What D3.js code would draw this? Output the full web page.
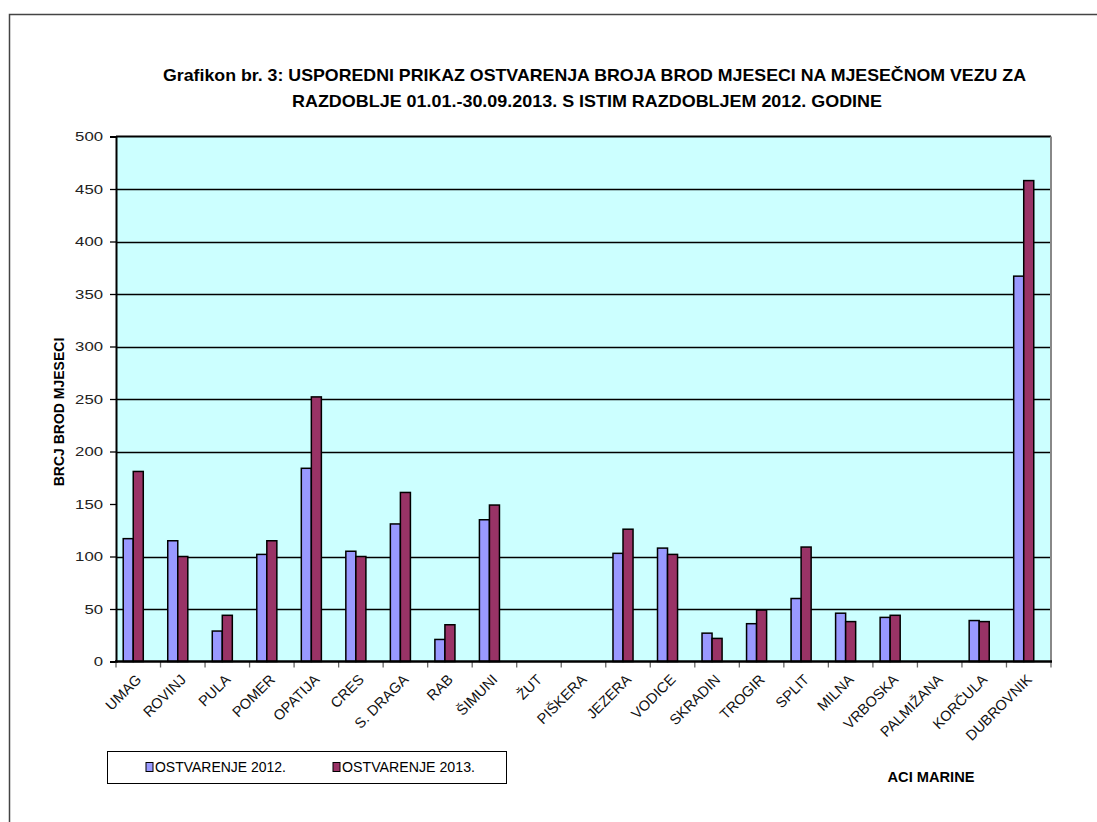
<!DOCTYPE html>
<html>
<head>
<meta charset="utf-8">
<script src="https://cdn.jsdelivr.net/npm/d3@7"></script>
<style>
  body { margin: 0; background: #fff; }
  svg { display: block; }
</style>
</head>
<body>
<svg id="chart"></svg>
<script>
document.addEventListener("DOMContentLoaded", function() {

    var width = 1097;
    var height = 822;

    // marine names along the x axis
    var marinas = ["UMAG", "ROVINJ", "PULA", "POMER", "OPATIJA", "CRES", "S. DRAGA", "RAB", "ŠIMUNI",
                   "ŽUT", "PIŠKERA", "JEZERA", "VODICE", "SKRADIN", "TROGIR", "SPLIT", "MILNA",
                   "VRBOSKA", "PALMIŽANA", "KORČULA", "DUBROVNIK"];

    var values2012 = [117, 115, 29, 102, 184, 105, 131, 21, 135, 0, 0, 103, 108, 27, 36, 60, 46, 42, 0, 39, 367];
    var values2013 = [181, 100, 44, 115, 252, 100, 161, 35, 149, 0, 0, 126, 102, 22, 49, 109, 38, 44, 0, 38, 458];

    var seriesNames = ["OSTVARENJE  2012.", "OSTVARENJE 2013."];
    var yTicks = [0, 50, 100, 150, 200, 250, 300, 350, 400, 450, 500];
    var gridTicks = [50, 100, 200, 250, 300, 350, 400, 450]; // no line at 150 in the original

    var titleLines = ["Grafikon br. 3: USPOREDNI PRIKAZ OSTVARENJA BROJA BROD MJESECI NA MJESEČNOM VEZU ZA",
                      "RAZDOBLJE 01.01.-30.09.2013. S ISTIM RAZDOBLJEM 2012. GODINE"];

    var colors = ["#9999FF", "#993366"];

    var plot = { left: 116, right: 1051, top: 136.5, bottom: 661.5 };

    var svg = d3.select("#chart")
        .attr("width", width)
        .attr("height", height);

    // outer frame
    svg.append("path")
        .attr("d", `M9.5 ${height} L9.5 14.5 L${width} 14.5`)
        .attr("fill", "none")
        .attr("stroke", "#444")
        .attr("stroke-width", 1.5);

    // title
    var titleWidths = [863, 590];
    svg.selectAll("text.title")
        .data(titleLines)
        .enter()
        .append("text")
        .attr("class", "title")
        .attr("x", (d, i) => i === 0 ? 594.5 : 587)
        .attr("y", (d, i) => 81 + i * 26)
        .attr("text-anchor", "middle")
        .attr("font-family", "'Liberation Sans Narrow', 'Arial Narrow', 'Liberation Sans', sans-serif")
        .attr("font-weight", "bold")
        .attr("font-size", 17)
        .attr("textLength", (d, i) => titleWidths[i])
        .attr("lengthAdjust", "spacingAndGlyphs")
        .attr("fill", "#000")
        .text(d => d);

    var x0 = d3.scaleBand()
        .domain(marinas)
        .range([plot.left, plot.right])
        .padding(0);

    // third, empty slot keeps the pair off-centre like the original
    var x1 = d3.scaleBand()
        .domain(["2012", "2013", "none"])
        .range([0, x0.bandwidth()])
        .paddingInner(0)
        .paddingOuter(0.72);

    var y = d3.scaleLinear()
        .domain([0, 500])
        .range([plot.bottom, plot.top]);

    // plot background
    svg.append("rect")
        .attr("x", plot.left)
        .attr("y", plot.top)
        .attr("width", plot.right - plot.left)
        .attr("height", plot.bottom - plot.top)
        .attr("fill", "#CCFFFF");

    // gridlines
    svg.append("g")
        .selectAll("line")
        .data(gridTicks)
        .enter()
        .append("line")
        .attr("x1", plot.left)
        .attr("x2", plot.right)
        .attr("y1", d => Math.round(y(d)) + 0.5)
        .attr("y2", d => Math.round(y(d)) + 0.5)
        .attr("stroke", "#000")
        .attr("stroke-width", 1.3);

    // top and right borders
    svg.append("line")
        .attr("x1", plot.left).attr("x2", plot.right)
        .attr("y1", plot.top).attr("y2", plot.top)
        .attr("stroke", "#000").attr("stroke-width", 2);
    svg.append("line")
        .attr("x1", plot.right).attr("x2", plot.right)
        .attr("y1", plot.top).attr("y2", plot.bottom)
        .attr("stroke", "#888").attr("stroke-width", 2);

    // bars
    var rows = marinas.map((m, i) => ({ name: m, vals: [values2012[i], values2013[i]] }));
    var groups = svg.append("g")
        .selectAll("g")
        .data(rows)
        .enter()
        .append("g")
        .attr("transform", d => `translate(${x0(d.name)},0)`);

    groups.selectAll("rect")
        .data(d => d.vals.map((v, k) => ({ key: k === 0 ? "2012" : "2013", value: v, k: k })).filter(d => d.value > 0))
        .enter()
        .append("rect")
        .attr("x", d => x1(d.key))
        .attr("y", d => y(d.value))
        .attr("width", x1.bandwidth())
        .attr("height", d => y(0) - y(d.value))
        .attr("fill", d => colors[d.k])
        .attr("stroke", "#000")
        .attr("stroke-width", 1.5);

    // y axis
    var yAxis = d3.axisLeft(y)
        .tickValues(yTicks)
        .tickSize(6)
        .tickPadding(7)
        .tickFormat(d3.format("d"));
    var gy = svg.append("g")
        .attr("transform", `translate(${plot.left},0)`)
        .call(yAxis);
    gy.select(".domain").attr("stroke", "#000").attr("stroke-width", 2);
    gy.selectAll(".tick line").attr("stroke", "#000").attr("stroke-width", 1.3);
    // the original labels are drawn wide, so stretch them to the same width
    gy.selectAll("text")
        .attr("font-family", "'Liberation Sans', Arial, sans-serif")
        .attr("font-size", 12.5)
        .attr("textLength", d => String(d).length * 9.3)
        .attr("lengthAdjust", "spacingAndGlyphs")
        .attr("fill", "#222");

    // x axis: ticks at band boundaries
    var xAxisG = svg.append("g");
    xAxisG.selectAll("line.tick")
        .data(marinas.concat(["end"]))
        .enter()
        .append("line")
        .attr("x1", (d, i) => plot.left + i * x0.step())
        .attr("x2", (d, i) => plot.left + i * x0.step())
        .attr("y1", plot.bottom)
        .attr("y2", plot.bottom + 6)
        .attr("stroke", "#666")
        .attr("stroke-width", 1.3);
    xAxisG.append("line")
        .attr("x1", plot.left - 1).attr("x2", plot.right + 1)
        .attr("y1", plot.bottom).attr("y2", plot.bottom)
        .attr("stroke", "#000").attr("stroke-width", 2.5);

    xAxisG.selectAll("text")
        .data(marinas)
        .enter()
        .append("text")
        .attr("transform", d => `translate(${x0(d) + x0.bandwidth() / 2 + 4},${plot.bottom + 19}) rotate(-45)`)
        .attr("text-anchor", "end")
        .attr("font-family", "'Liberation Sans', Arial, sans-serif")
        .attr("font-size", 14.5)
        .attr("fill", "#111")
        .text(d => d);

    // y axis title
    svg.append("text")
        .attr("transform", `translate(64,${412}) rotate(-90)`)
        .attr("text-anchor", "middle")
        .attr("font-family", "'Liberation Sans', Arial, sans-serif")
        .attr("font-weight", "bold")
        .attr("font-size", 14)
        .attr("fill", "#000")
        .text("BRCJ BROD MJESECI");

    // legend
    var legend = svg.append("g");
    legend.append("rect")
        .attr("x", 107.5).attr("y", 751.5)
        .attr("width", 399).attr("height", 32)
        .attr("fill", "#fff")
        .attr("stroke", "#000")
        .attr("stroke-width", 1);
    var legendX = [146, 333];
    var items = legend.selectAll("g")
        .data(seriesNames)
        .enter()
        .append("g")
        .attr("transform", (d, i) => `translate(${legendX[i]},767)`);
    items.append("rect")
        .attr("x", 0).attr("y", -4.5)
        .attr("width", 7).attr("height", 9)
        .attr("fill", (d, i) => colors[i])
        .attr("stroke", "#000")
        .attr("stroke-width", 1);
    items.append("text")
        .attr("x", 9)
        .attr("y", 0)
        .attr("dy", "0.35em")
        .attr("font-family", "'Liberation Sans Narrow', 'Arial Narrow', 'Liberation Sans', sans-serif")
        .attr("font-size", 14)
        .attr("textLength", (d, i) => i === 0 ? 131 : 133)
        .attr("lengthAdjust", "spacingAndGlyphs")
        .attr("fill", "#000")
        .text(d => d);

    svg.append("text")
        .attr("x", 931)
        .attr("y", 782)
        .attr("text-anchor", "middle")
        .attr("font-family", "'Liberation Sans Narrow', 'Arial Narrow', 'Liberation Sans', sans-serif")
        .attr("font-weight", "bold")
        .attr("font-size", 15)
        .attr("textLength", 87)
        .attr("lengthAdjust", "spacingAndGlyphs")
        .attr("fill", "#000")
        .text("ACI MARINE");
});
</script>
</body>
</html>
